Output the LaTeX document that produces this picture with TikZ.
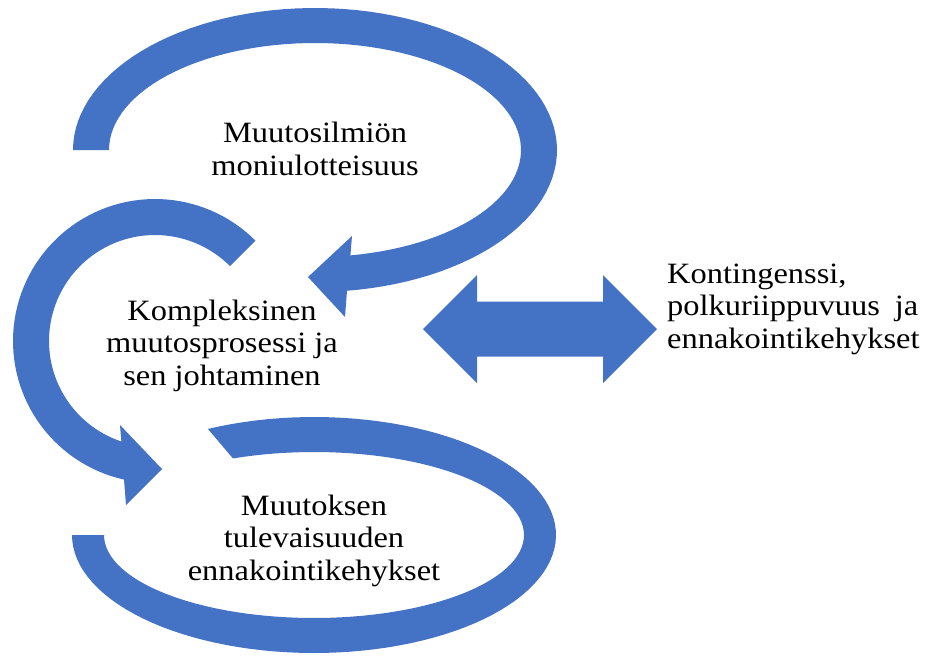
\documentclass[tikz,border=0pt]{standalone}
\usepackage{fontspec}
\setmainfont{Liberation Serif}[FakeStretch=1.1]
\definecolor{bandblue}{HTML}{4472C4}
\tikzset{
  band/.style={fill=bandblue, draw=none},
  label/.style={font=\fontsize{29.5}{32.5}\selectfont, inner sep=0pt, align=center, anchor=base},
}
\begin{document}
\begin{tikzpicture}[x=1pt, y=-1pt]
  \fill[white] (0,0) rectangle (934,657);
  \useasboundingbox (0,0) rectangle (934,657);

  % upper loop: ellipse band ending in a head pointing left
  \fill[band]
    plot[domain=180:-82.4, samples=90, variable=\t] ({315+242*cos(\t)}, {150-142*sin(\t)})
    -- (345,317) -- (308,277) -- (352,236)
    -- plot[domain=-80.1:180, samples=90, variable=\t] ({315+206*cos(\t)}, {150-107*sin(\t)})
    -- cycle;

  % left loop: circular band ending in a head pointing right
  \fill[band]
    plot[domain=45:257.4, samples=80, variable=\t] ({155+142*cos(\t)}, {341-142*sin(\t)})
    -- (126,505) -- (162,469) -- (120,425)
    -- plot[domain=251.5:45, samples=80, variable=\t] ({155+106*cos(\t)}, {341-106*sin(\t)})
    -- cycle;

  % lower loop: open ellipse band
  \fill[band]
    plot[domain=116:-180, samples=100, variable=\t] ({314+242*cos(\t)}, {535-118*sin(\t)})
    -- plot[domain=-180:112.7, samples=100, variable=\t] ({314+210*cos(\t)}, {535-83*sin(\t)})
    -- cycle;

  % two-headed arrow
  \fill[band] (423,329) -- (477,275) -- (477,301.5) -- (603,301.5) -- (603,275)
    -- (657,329) -- (603,383) -- (603,356.5) -- (477,356.5) -- (477,383) -- cycle;

  % labels (anchored at the baseline of their last line)
  \node[label] (ilmiot) at (315,175) {Muutosilmiön\\moniulotteisuus};
  \node[label] (prosessi) at (222,385) {Kompleksinen\\muutosprosessi ja\\sen johtaminen};
  \node[label] (ennakointi) at (314,580) {Muutoksen\\tulevaisuuden\\ennakointikehykset};
  \node[label, anchor=base west, align=left] (kontingenssi) at (667,348)
    {Kontingenssi,\\\makebox[251pt][s]{polkuriippuvuus ja}\\ennakointikehykset};
\end{tikzpicture}
\end{document}
